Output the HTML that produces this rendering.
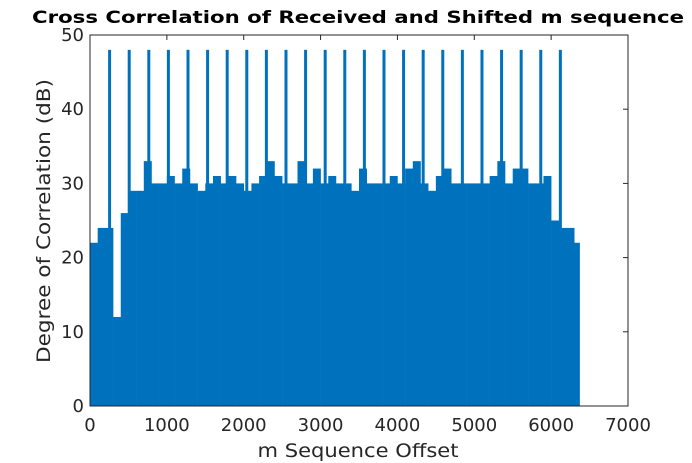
<!DOCTYPE html>
<html><head><meta charset="utf-8"><style>
body{margin:0;background:#fff;}
svg{display:block;font-family:"DejaVu Sans","Liberation Sans",sans-serif;}
</style></head><body>
<svg id="chart" width="692" height="463">
<text x="358" y="23" text-anchor="middle" font-size="17" font-weight="bold" fill="#000" textLength="652" lengthAdjust="spacingAndGlyphs">Cross Correlation of Received and Shifted m sequence</text>
<g id="marks"></g>
<rect x="90" y="35" width="538" height="371" fill="none" stroke="#262626" stroke-width="1"/>
<g id="xt"></g>
<g id="yt"></g>
<text x="358" y="457" text-anchor="middle" font-size="19" fill="#262626" textLength="201" lengthAdjust="spacingAndGlyphs">m Sequence Offset</text>
<text transform="translate(50,221) rotate(-90)" text-anchor="middle" font-size="19" fill="#262626" textLength="284" lengthAdjust="spacingAndGlyphs">Degree of Correlation (dB)</text>
</svg>
<script>
// envelope of correlation per 100-offset bin (dB)
const binStarts=[0,100,200,300,400,500,600,700,800,900,1000,1100,1200,1300,1400,1500,1600,1700,1800,1900,2000,2100,2200,2300,2400,2500,2600,2700,2800,2900,3000,3100,3200,3300,3400,3500,3600,3700,3800,3900,4000,4100,4200,4300,4400,4500,4600,4700,4800,4900,5000,5100,5200,5300,5400,5500,5600,5700,5800,5900,6000,6100,6200,6300];
const binValues=[22,24,24,12,26,29,29,33,30,30,31,30,32,30,29,30,31,30,31,30,29,30,31,33,31,30,30,33,30,32,30,31,30,30,29,32,30,30,30,31,30,32,33,30,29,31,32,30,30,30,30,30,31,33,30,32,32,30,30,31,25,24,24,22];
const peakOffsets=[255,510,765,1020,1275,1530,1785,2040,2295,2550,2805,3060,3315,3570,3825,4080,4335,4590,4845,5100,5355,5610,5865,6120];
const peakValues=[48,48,48,48,48,48,48,48,48,48,48,48,48,48,48,48,48,48,48,48,48,48,48,48];
const xTicks=[0,1000,2000,3000,4000,5000,6000,7000];
const yTicks=[0,10,20,30,40,50];
const binWidth=100;
const dataEnd=6370;

const X=v=>90+v*(538/7000);
const Y=v=>406-v*(371/50);
const NS="http://www.w3.org/2000/svg";
const marks=document.getElementById('marks');
binStarts.forEach((s,i)=>{
  const e=Math.min(s+binWidth,dataEnd);
  const r=document.createElementNS(NS,'rect');
  r.setAttribute('x',X(s));r.setAttribute('width',X(e)-X(s)+0.3);
  r.setAttribute('y',Y(binValues[i]));r.setAttribute('height',Y(0)-Y(binValues[i]));
  r.setAttribute('fill','#0072bd');
  
  
  marks.appendChild(r);
});
peakOffsets.forEach((p,i)=>{
  const r=document.createElementNS(NS,'rect');
  r.setAttribute('x',X(p)-1.5);r.setAttribute('width',3);
  r.setAttribute('y',Y(peakValues[i]));r.setAttribute('height',Y(0)-Y(peakValues[i]));
  r.setAttribute('fill','#0072bd');
  
  
  marks.appendChild(r);
});
const xt=document.getElementById('xt');
xTicks.forEach(t=>{
  const l=document.createElementNS(NS,'line');
  l.setAttribute('x1',X(t));l.setAttribute('x2',X(t));l.setAttribute('y1',35);l.setAttribute('y2',40);
  l.setAttribute('stroke','#262626');
  
  
  xt.appendChild(l);
  const tx=document.createElementNS(NS,'text');
  tx.setAttribute('x',X(t));tx.setAttribute('y',431);tx.setAttribute('text-anchor','middle');
  tx.setAttribute('font-size','18');tx.setAttribute('fill','#262626');tx.textContent=t;
  
  
  xt.appendChild(tx);
});
const yt=document.getElementById('yt');
yTicks.forEach(t=>{
  const l=document.createElementNS(NS,'line');
  l.setAttribute('x1',623);l.setAttribute('x2',628);l.setAttribute('y1',Y(t));l.setAttribute('y2',Y(t));
  l.setAttribute('stroke','#262626');
  
  
  yt.appendChild(l);
  const tx=document.createElementNS(NS,'text');
  tx.setAttribute('x',84);tx.setAttribute('y',Y(t)+6);tx.setAttribute('text-anchor','end');
  tx.setAttribute('font-size','18');tx.setAttribute('fill','#262626');tx.textContent=t;
  
  
  yt.appendChild(tx);
});
</script>
</body></html>
